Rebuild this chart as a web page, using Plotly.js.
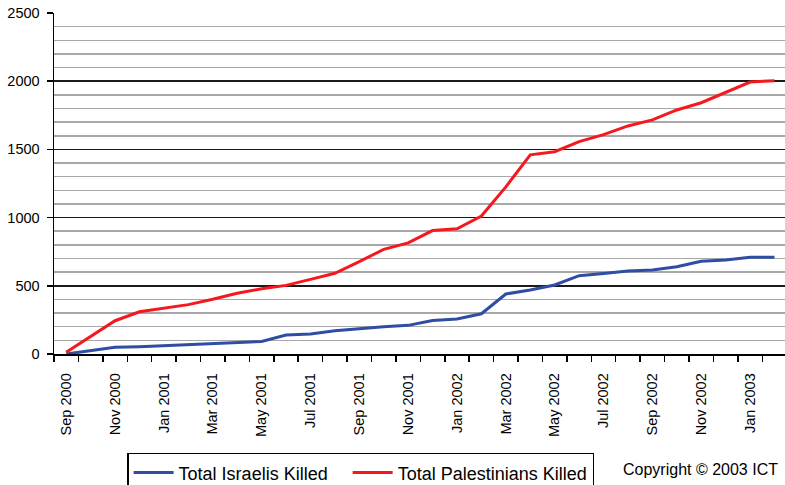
<!DOCTYPE html>
<html>
<head>
<meta charset="utf-8">
<script src="https://cdn.plot.ly/plotly-3.0.1.min.js"></script>
<style>html,body{margin:0;padding:0;background:#fff;}#chart{width:785px;height:485px;}</style>
</head>
<body>
<div id="chart"></div>
<script>
// Months (one category per month)
const months = ["Sep 2000","Oct 2000","Nov 2000","Dec 2000","Jan 2001","Feb 2001","Mar 2001","Apr 2001",
  "May 2001","Jun 2001","Jul 2001","Aug 2001","Sep 2001","Oct 2001","Nov 2001","Dec 2001",
  "Jan 2002","Feb 2002","Mar 2002","Apr 2002","May 2002","Jun 2002","Jul 2002","Aug 2002",
  "Sep 2002","Oct 2002","Nov 2002","Dec 2002","Jan 2003","Feb 2003"];

const israelisKilled = [0,25,49,54,61,73,76,85,92,139,147,170,186,200,210,245,
  257,295,440,469,506,574,590,608,616,640,680,690,709,710];

const palestiniansKilled = [12,125,244,310,335,362,401,445,478,503,547,592,677,767,815,905,
  918,1012,1225,1460,1483,1557,1608,1672,1716,1789,1842,1918,1994,2004];

const tickLabels = ["Sep 2000","Nov 2000","Jan 2001","Mar 2001","May 2001","Jul 2001","Sep 2001",
  "Nov 2001","Jan 2002","Mar 2002","May 2002","Jul 2002","Sep 2002","Nov 2002","Jan 2003"];

const seriesNames = ["Total Israelis Killed", "Total Palestinians Killed"];

const xIdx = months.map((m, i) => i);
const tickIdx = tickLabels.map(t => months.indexOf(t));

const font = "Liberation Sans, Arial, sans-serif";
const gap = "\u00a0\u00a0\u00a0";

const traces = [
  {x: xIdx, y: israelisKilled, name: seriesNames[0] + gap, type: "scatter", mode: "lines",
   line: {color: "#2f4da3", width: 3}},
  {x: xIdx, y: palestiniansKilled, name: seriesNames[1], type: "scatter", mode: "lines",
   line: {color: "#f5181e", width: 3}}
];

const layout = {
  width: 785, height: 485,
  margin: {l: 54, r: 0, t: 13, b: 131, autoexpand: false},
  paper_bgcolor: "#fff", plot_bgcolor: "#fff",
  font: {family: font, color: "#000", size: 14.5},
  showlegend: true,
  legend: {orientation: "h", x: 0.1, xanchor: "left", y: -0.29, yanchor: "top",
    bordercolor: "#000", borderwidth: 1.5, font: {size: 18, family: font},
    itemwidth: 40, tracegroupgap: 0, bgcolor: "#fff"},
  xaxis: {
    range: [-0.5, 29.43], showgrid: false, zeroline: false,
    tickmode: "array", tickvals: tickIdx, ticktext: tickLabels, tickangle: -90,
    ticks: "", tickfont: {size: 14.5}, ticklabelstandoff: 12,
    showline: true, linecolor: "#000", linewidth: 1.5,
    minor: {tick0: -0.5, dtick: 1, ticks: "outside", ticklen: 6, tickcolor: "#000", tickwidth: 1.5, showgrid: false}
  },
  yaxis: {
    range: [0, 2500], dtick: 500, tick0: 0, showgrid: true, gridcolor: "#1a1a1a", gridwidth: 1.5,
    zeroline: false, showline: true, linecolor: "#000", linewidth: 1.5,
    ticks: "outside", ticklen: 6, tickcolor: "#000", tickwidth: 1.5,
    tickfont: {size: 14.5}, ticklabelstandoff: 4,
    minor: {dtick: 100, showgrid: true, gridcolor: "#a8a8a8", gridwidth: 1.5, ticks: ""}
  },
  annotations: [
    {text: "Copyright © 2003 ICT", xref: "paper", yref: "paper", x: 0.884, y: -0.34,
     xanchor: "center", yanchor: "middle", showarrow: false, font: {size: 16, family: font}}
  ]
};

Plotly.newPlot("chart", traces, layout, {displayModeBar: false, staticPlot: true});
</script>
</body>
</html>
